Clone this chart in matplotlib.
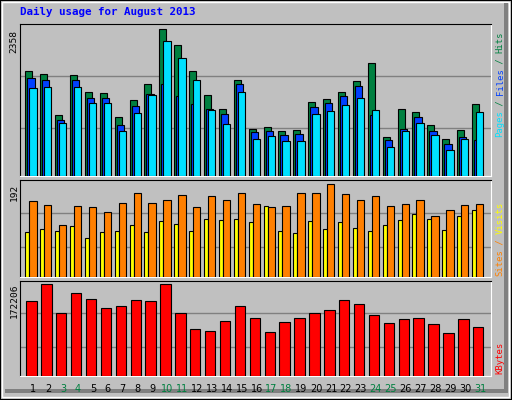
import matplotlib
matplotlib.use("Agg")
import matplotlib.pyplot as plt
from matplotlib.patches import Rectangle
import numpy as np

days = list(range(1, 32))
weekend = [3, 4, 10, 11, 17, 18, 24, 25, 31]

# values
hits = [1693, 1645, 988, 1629, 1355, 1339, 956, 1232, 1489, 2358, 2101, 1693, 1302, 1077, 1538,
        766, 798, 734, 750, 1200, 1248, 1355, 1532, 1811, 640, 1077, 1029, 820, 595, 750, 1168]
files = [1581, 1549, 908, 1549, 1259, 1259, 827, 1136, 1329, 1474, 1297, 1168, 1088, 997, 1489,
         718, 734, 670, 686, 1120, 1184, 1291, 1451, 988, 590, 766, 954, 734, 525, 638, 590]
pages = [1420, 1431, 863, 1441, 1179, 1179, 729, 1024, 1313, 2165, 1891, 1538, 1072, 847, 1361,
         606, 654, 574, 574, 1008, 1056, 1152, 1265, 1072, 477, 734, 863, 670, 429, 606, 1029]
visits = [92, 100, 96, 106, 81, 94, 96, 108, 92, 115, 110, 96, 121, 117, 121,
          113, 148, 96, 90, 115, 100, 113, 102, 96, 108, 117, 131, 121, 98, 127, 138]
sites = [158, 150, 108, 146, 144, 134, 154, 175, 154, 160, 169, 144, 167, 160, 175,
         152, 144, 146, 173, 175, 192, 171, 160, 167, 148, 152, 160, 127, 138, 150, 152]
kbytes = [141327, 172206, 119019, 156437, 145084, 128054, 131838, 143206, 141327, 172206, 119019,
          88740, 84955, 103877, 130577, 109558, 83063, 101984, 109558, 119019, 124695, 143206,
          135623, 114588, 98599, 106152, 108044, 96686, 81170, 106152, 91262]

BG = "#c0c0c0"
W, H = 512, 400
fig = plt.figure(figsize=(5.12, 4.0), dpi=100, facecolor=BG)

def fx(px):
    return px / W

def fy(py):
    return 1 - py / H

# bevel border
fig.patches.append(Rectangle((0, 0), 1, 1, transform=fig.transFigure, fill=False,
                             edgecolor="black", lw=1.5))
fig.patches.append(Rectangle((fx(1.5), fy(397)), fx(507), 395.5 / H, transform=fig.transFigure,
                             fill=False, edgecolor="white", lw=1))
fig.patches.append(Rectangle((fx(5), fy(393)), fx(503), 4 / H, transform=fig.transFigure,
                             facecolor="#808080", edgecolor="none"))
fig.patches.append(Rectangle((fx(504), fy(393)), fx(4), 390 / H, transform=fig.transFigure,
                             facecolor="#808080", edgecolor="none"))

fig.text(fx(20), fy(12), "Daily usage for August 2013", color="#0000ff", fontsize=7.8,
         fontweight="bold", family="DejaVu Sans Mono", va="center", ha="left")

x = np.array(days, dtype=float)
slot = 14.89
xl, xr = 20.3, 491.0
xlim = (1 + (xl - 33.3) / slot, 1 + (xr - 33.3) / slot)

def make_ax(top, base):
    # axes from y=top to y=base (pixel)
    ax = fig.add_axes([fx(xl), fy(base), fx(xr - xl), (base - top) / H])
    ax.set_facecolor(BG)
    ax.set_xlim(*xlim)
    ax.set_xticks([])
    ax.set_yticks([])
    for s in ("left", "top"):
        ax.spines[s].set_color("black")
    for s in ("right", "bottom"):
        ax.spines[s].set_color("white")
    return ax

def bars(ax, off, wid, vals, color):
    ax.bar(x + off / slot, vals, width=wid / slot, align="edge", color=color,
           edgecolor="black", lw=0.8, zorder=3)

def grid(ax, vals):
    for v in vals:
        ax.axhline(v, color="#808080", lw=1, zorder=1)

def right_label(parts, bottom):
    step = 5.25
    i = 0
    for txt, col in parts:
        fig.text(fx(500), fy(bottom - i * step), txt, color=col, rotation=90, fontsize=6.4,
                 family="DejaVu Sans Mono", ha="center", va="bottom")
        i += len(txt)

# top panel: hits / files / pages
ax1 = make_ax(24.5, 176.5)
ax1.set_ylim(0, 2358 * (176 - 24.5) / (176 - 29.3))
grid(ax1, [783, 1603])
bars(ax1, -8, 7, hits, "#008040")
bars(ax1, -6, 7.3, files, "#0040ff")
bars(ax1, -4, 7.3, pages, "#00e0ff")
fig.text(fx(14), fy(30), "2358", rotation=90, fontsize=6.8, family="DejaVu Sans Mono",
         ha="center", va="top")
right_label([("Pages", "#00e0ff"), (" / ", "#008040"), ("Files", "#0040ff"),
             (" / ", "#008040"), ("Hits", "#008040")], 137)

# middle panel: visits / sites
ax2 = make_ax(180.3, 276.8)
ax2.set_ylim(0, 192 * (276.3 - 180.3) / (276.3 - 184.3))
grid(ax2, [62.6, 131.5])
bars(ax2, -8, 4, visits, "#ffff00")
bars(ax2, -4, 7.3, sites, "#ff8000")
fig.text(fx(14), fy(184), "192", rotation=90, fontsize=6.8, family="DejaVu Sans Mono",
         ha="center", va="top")
right_label([("Sites", "#ff8000"), (" / ", "#ff8000"), ("Visits", "#ffff00")], 276)

# bottom panel: kbytes
ax3 = make_ax(281, 375.8)
ax3.set_ylim(0, 172206 * (375.3 - 281) / (375.3 - 284.3))
grid(ax3, [54879, 117327])
bars(ax3, -7, 10.4, kbytes, "#ff0000")
fig.text(fx(14), fy(284), "172206", rotation=90, fontsize=6.8, family="DejaVu Sans Mono",
         ha="center", va="top")
right_label([("KBytes", "#ff0000")], 374)

for d in days:
    px = 33.3 + (d - 1) * slot
    fig.text(fx(px), fy(389), str(d), color="#008040" if d in weekend else "black",
             fontsize=7, family="DejaVu Sans", ha="center", va="center")

fig.savefig("out.png", dpi=100, facecolor=BG)
